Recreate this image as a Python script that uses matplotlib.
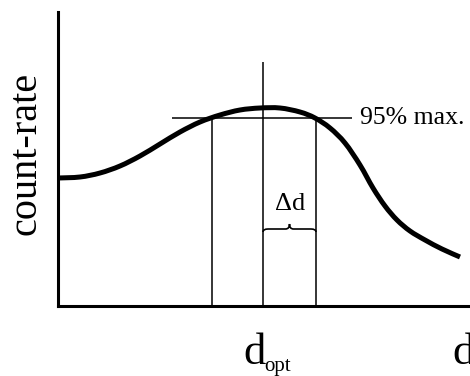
import matplotlib
matplotlib.use("Agg")
from matplotlib import pyplot as plt
from matplotlib.path import Path
from matplotlib.patches import PathPatch

plt.rcParams["font.family"] = ["Liberation Serif", "DejaVu Serif"]

# detector distance d vs. count-rate (schematic units)
d = [0, 22, 42, 62, 82, 102, 122, 142, 162, 182, 202, 222, 242, 257,
     272, 287, 302, 315, 327, 339, 352, 367, 384, 402]
rate = [128, 129, 133, 140, 150, 162, 174, 184, 191, 196, 198, 198, 194, 188,
        178, 163, 141, 118, 100, 86, 75, 66, 57, 49]

d_low = 154      # left crossing of the 95% level
d_opt = 205      # optimum distance
d_high = 258     # right crossing of the 95% level
level = 0.95 * max(rate)


def smooth_path(xs, ys):
    # Catmull-Rom through the points, written as cubic Bezier segments
    pts = list(zip(xs, ys))
    verts = [pts[0]]
    codes = [Path.MOVETO]
    for i in range(len(pts) - 1):
        p0 = pts[i - 1] if i > 0 else pts[i]
        p1 = pts[i]
        p2 = pts[i + 1]
        p3 = pts[i + 2] if i + 2 < len(pts) else pts[i + 1]
        c1 = (p1[0] + (p2[0] - p0[0]) / 6, p1[1] + (p2[1] - p0[1]) / 6)
        c2 = (p2[0] - (p3[0] - p1[0]) / 6, p2[1] - (p3[1] - p1[1]) / 6)
        verts += [c1, c2, p2]
        codes += [Path.CURVE4] * 3
    return Path(verts, codes)


W, H = 470, 376
fig = plt.figure(figsize=(W / 100, H / 100), dpi=100)
ax = fig.add_axes([58 / W, 70 / H, 412 / W, 294 / H])
ax.set_xlim(0, 412)
ax.set_ylim(0, 294)

for side in ("top", "right"):
    ax.spines[side].set_visible(False)
for side in ("left", "bottom"):
    ax.spines[side].set_linewidth(2.2)
    ax.spines[side].set_color("black")
ax.set_xticks([])
ax.set_yticks([])

# helper lines
thin = dict(color="black", lw=1.1, solid_capstyle="butt")
ax.plot([114, 294], [level, level], **thin)
ax.plot([d_low, d_low], [0, level], **thin)
ax.plot([d_high, d_high], [0, level], **thin)
ax.plot([d_opt, d_opt], [0, 244], **thin)

# the curve itself
ax.add_patch(PathPatch(smooth_path(d, rate), fill=False, lw=3.6,
                       edgecolor="black", capstyle="butt", joinstyle="round"))

# curly brace between d_opt and d_high
mid = (d_opt + d_high) / 2
yb = 77
verts = [(d_opt, yb - 3), (d_opt, yb), (d_opt + 5, yb),
         (mid - 4, yb), (mid, yb), (mid, yb + 5),
         (mid, yb), (mid + 4, yb),
         (d_high - 5, yb), (d_high, yb), (d_high, yb - 3)]
codes = [Path.MOVETO, Path.CURVE3, Path.CURVE3,
         Path.LINETO, Path.CURVE3, Path.CURVE3,
         Path.CURVE3, Path.CURVE3,
         Path.LINETO, Path.CURVE3, Path.CURVE3]
ax.add_patch(PathPatch(Path(verts, codes), fill=False, lw=1.2,
                       edgecolor="black"))

ax.text(mid + 1, 102, "\u0394d", fontsize=19, ha="center", va="center")
ax.text(302, level, "95% max.", fontsize=18.5, ha="left", va="center",
        clip_on=False)

ax.text(-32, 153, "count-rate", fontsize=29, rotation=90,
        ha="center", va="center", clip_on=False)

ax.text(185, -58, "d", fontsize=32, ha="left", va="baseline", clip_on=False)
ax.text(206, -65, "opt", fontsize=15, ha="left", va="baseline", clip_on=False)
ax.text(394, -58, "d", fontsize=32, ha="left", va="baseline", clip_on=False)

fig.savefig("out.png", dpi=100)
